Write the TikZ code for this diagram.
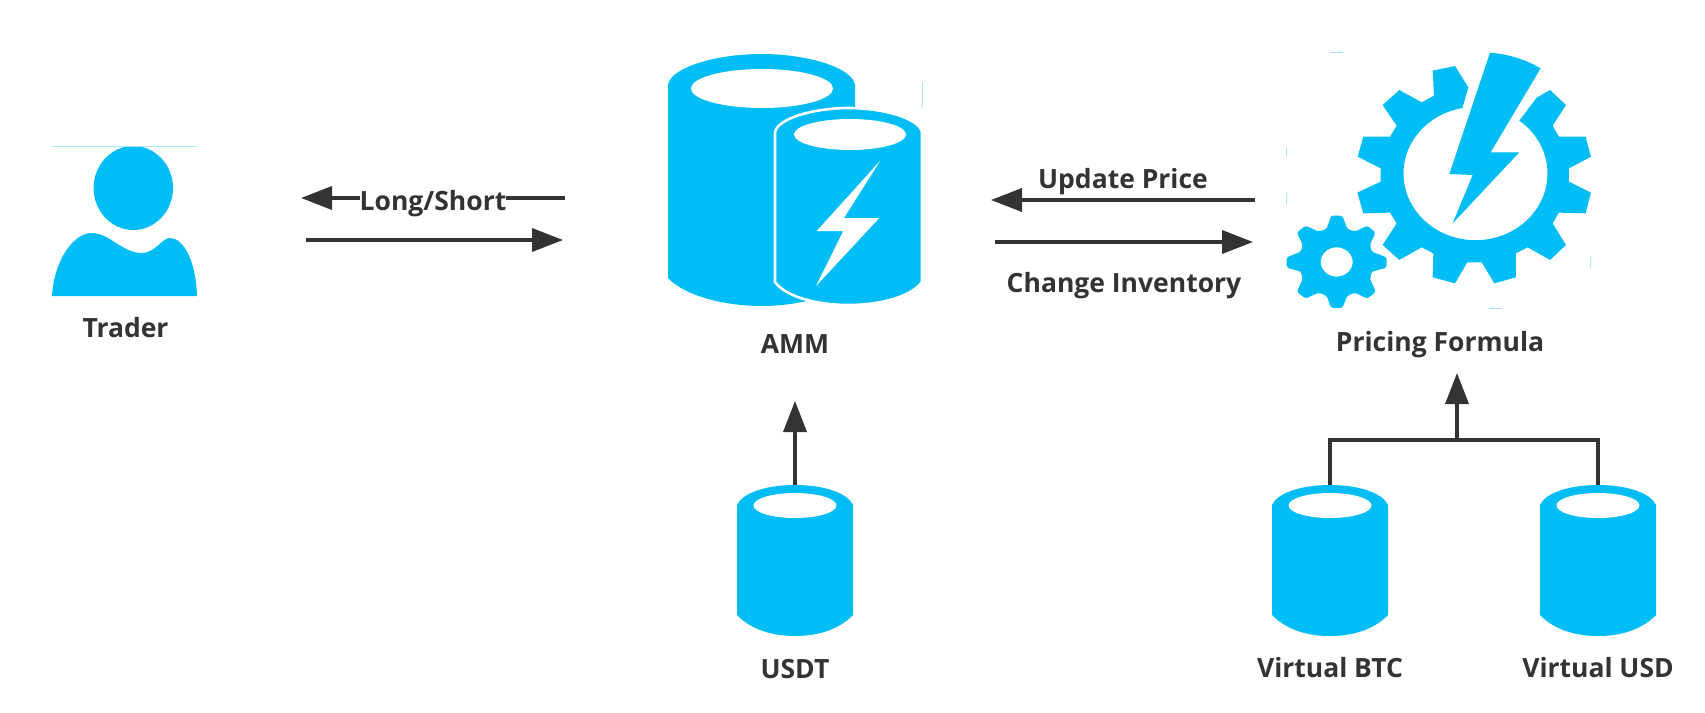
\documentclass[tikz,border=0pt]{standalone}
\usepackage{fontspec}
\setmainfont{Open Sans}
\usetikzlibrary{arrows.meta}
\definecolor{iconblue}{HTML}{00BDF6}
\definecolor{inkdark}{HTML}{333333}
\tikzset{
    iconbox/.style={inner sep=0pt,outer sep=0pt},
    caption/.style={text=inkdark,font=\fontsize{26.5}{30}\selectfont\bfseries,inner sep=0pt,anchor=base},
    flow/.style={draw=inkdark,line width=3.6pt,-{Triangle[length=31pt,width=23pt]}},
    branch/.style={draw=inkdark,line width=3.6pt},
    speck/.style={draw=iconblue!35,line width=1pt}
}
\newcommand\smalldrum[1]{%
% outer body, then the white mouth
    \fill[iconblue,shift={(#1)}] (-58,-55.5) .. controls (-53,-67) and (-30,-75.5) .. (0,-75.5)
    .. controls (30,-75.5) and (53,-67) .. (58,-55.5)
    -- (58,54.5) .. controls (47,66) and (28,75.5) .. (0,75.5)
    .. controls (-28,75.5) and (-47,66) .. (-58,54.5) -- cycle;
    \fill[white,shift={(#1)}] (0,-55) ellipse[x radius=41.5,y radius=12.5];
    }

\begin{document}
\begin{tikzpicture}[x={(1pt,0pt)},y={(0pt,-1pt)}]
    \useasboundingbox (0,0) rectangle (1705,712);

    % icon places
    \node[iconbox,minimum width=145,minimum height=150] (trader) at (124.5,221) {};
    \node[iconbox,minimum width=254,minimum height=252] (amm) at (795,180) {};
    \node[iconbox,minimum width=306,minimum height=256] (formula) at (1439,180) {};
    \node[iconbox,minimum width=116,minimum height=151] (usdt) at (795,560.5) {};
    \node[iconbox,minimum width=116,minimum height=151] (vbtc) at (1330,560.5) {};
    \node[iconbox,minimum width=116,minimum height=151] (vusd) at (1598,560.5) {};

    % trader
    \fill[iconblue] (133.3,188) ellipse[x radius=39.7,y radius=42];
    \fill[iconblue] (52,296) .. controls (54,262) and (72,234) .. (91,233)
    .. controls (110,233) and (122,253) .. (142,253)
    .. controls (155,253) and (162,238) .. (170,238)
    .. controls (184,238) and (196,262) .. (197,296) -- cycle;
    \draw[speck] (52,146) -- (197,146);

    % amm, two drums
    \fill[iconblue] (668,85) .. controls (670,68) and (715,54) .. (761.5,54)
    .. controls (808,54) and (853,68) .. (855,85)
    -- (855,278) .. controls (838,296) and (798,306) .. (761.5,306)
    .. controls (725,306) and (685,296) .. (668,278) -- cycle;
    \fill[white] (762,88.5) ellipse[x radius=71,y radius=19.5];
    \fill[iconblue,draw=white,line width=2.6pt] (775,132) .. controls (778,118) and (815,108) .. (848.5,108)
    .. controls (882,108) and (919,118) .. (922,132)
    -- (922,282) .. controls (912,296) and (882,305) .. (848.5,305)
    .. controls (815,305) and (785,296) .. (775,282) -- cycle;
    \fill[white] (850,134.5) ellipse[x radius=56,y radius=15.5];
    \fill[white] (880,161) -- (844,218) -- (879.3,218) -- (816,286) -- (843.3,231) -- (816.7,231) -- cycle;
    \draw[speck] (922,82) -- (922,108);

    % pricing formula, numbers are in thirds of a pixel
    \begin{scope}[shift={(1260,30)},x={(0.3333pt,0pt)},y={(0pt,-0.3333pt)}]
    \fill[iconblue] (607,235) -- (625,172) -- (585,108) -- (518,122) -- (522,197) -- (485,217)
    -- (418,180) -- (368,225) -- (410,287) -- (390,320) -- (310,320) -- (293,380) -- (362,415)
    -- (362,455) -- (292,488) -- (310,550) -- (390,548) -- (410,580) -- (368,645) -- (418,690)
    -- (485,652) -- (520,670) -- (518,742) -- (585,760) -- (622,697) -- (665,697) -- (703,760)
    -- (768,742) -- (768,670) -- (803,652) -- (870,690) -- (918,645) -- (878,580) -- (897,548)
    -- (977,550) -- (993,488) -- (927,455) -- (927,415) -- (993,380) -- (977,320) -- (897,320)
    -- (878,287) -- (918,225) -- (870,180) -- (830,203) -- (778,272)
    arc[start angle=-52.5,end angle=260.5,x radius=216,y radius=200] -- cycle;
    \fill[iconblue] (690,68) .. controls (745,72) and (800,90) .. (842,115) -- (692,367) -- (778,367)
    -- (578,580) -- (638,435) -- (568,432) -- cycle;
    \fill[iconblue,even odd rule,rounded corners=2.5pt] (213,557) -- (247,557) -- (262,597) -- (285,605) -- (322,587)
    -- (347,608) -- (330,643) -- (335,665) -- (380,682) -- (380,713) -- (335,725) -- (330,748)
    -- (348,785) -- (322,806) -- (285,788) -- (262,797) -- (247,834) -- (213,834) -- (200,797)
    -- (175,788) -- (137,806) -- (110,785) -- (128,748) -- (123,725) -- (80,713) -- (80,682)
    -- (123,665) -- (128,643) -- (110,608) -- (137,587) -- (175,605) -- (200,597) -- cycle
    (230,696) ellipse[x radius=48,y radius=44];
    \draw[speck] (78,350) -- (78,380);
    \draw[speck] (78,488) -- (78,525);
    \draw[speck] (993,680) -- (993,715);
    \draw[speck] (210,67) -- (250,67);
    \draw[speck] (688,835) -- (725,835);
    \end{scope}

    % the plain drums
    \smalldrum{usdt}
    \smalldrum{vbtc}
    \smalldrum{vusd}

    % captions
    \node[caption] (tradername) at (125.5,337) {Trader};
    \node[caption] (ammname) at (795,353) {AMM};
    \node[caption] (formulaname) at (1440,351) {Pricing Formula};
    \node[caption] (usdtname) at (795,678) {USDT};
    \node[caption] (vbtcname) at (1330,677) {Virtual BTC};
    \node[caption] (vusdname) at (1598,677) {Virtual USD};

    % flows
    \draw[flow] ([shift={(-103,18)}]amm.west) -- ([shift={(104,-23)}]trader.east)
    node[caption,midway,fill=white,yshift=-12pt] (longshort) {Long/Short};
    \draw[flow] ([shift={(109,19)}]trader.east) -- ([shift={(-105,60)}]amm.west);
    \draw[flow] ([shift={(-31,20)}]formula.west) -- ([shift={(69,20)}]amm.east)
    node[caption,midway,yshift=12pt] (updateprice) {Update Price};
    \draw[flow] ([shift={(73,62)}]amm.east) -- ([shift={(-33,62)}]formula.west)
    node[caption,midway,yshift=-50pt] (changeinv) {Change Inventory};

    \draw[flow,shorten >=95pt] (usdt.north) -- (amm.south);
    \coordinate (join) at (1457,440);
    \draw[branch] (vbtc.north) |- (join) -| (vusd.north);
    \draw[flow,shorten >=65pt] (join) -- (join |- formula.south);
\end{tikzpicture}
\end{document}
